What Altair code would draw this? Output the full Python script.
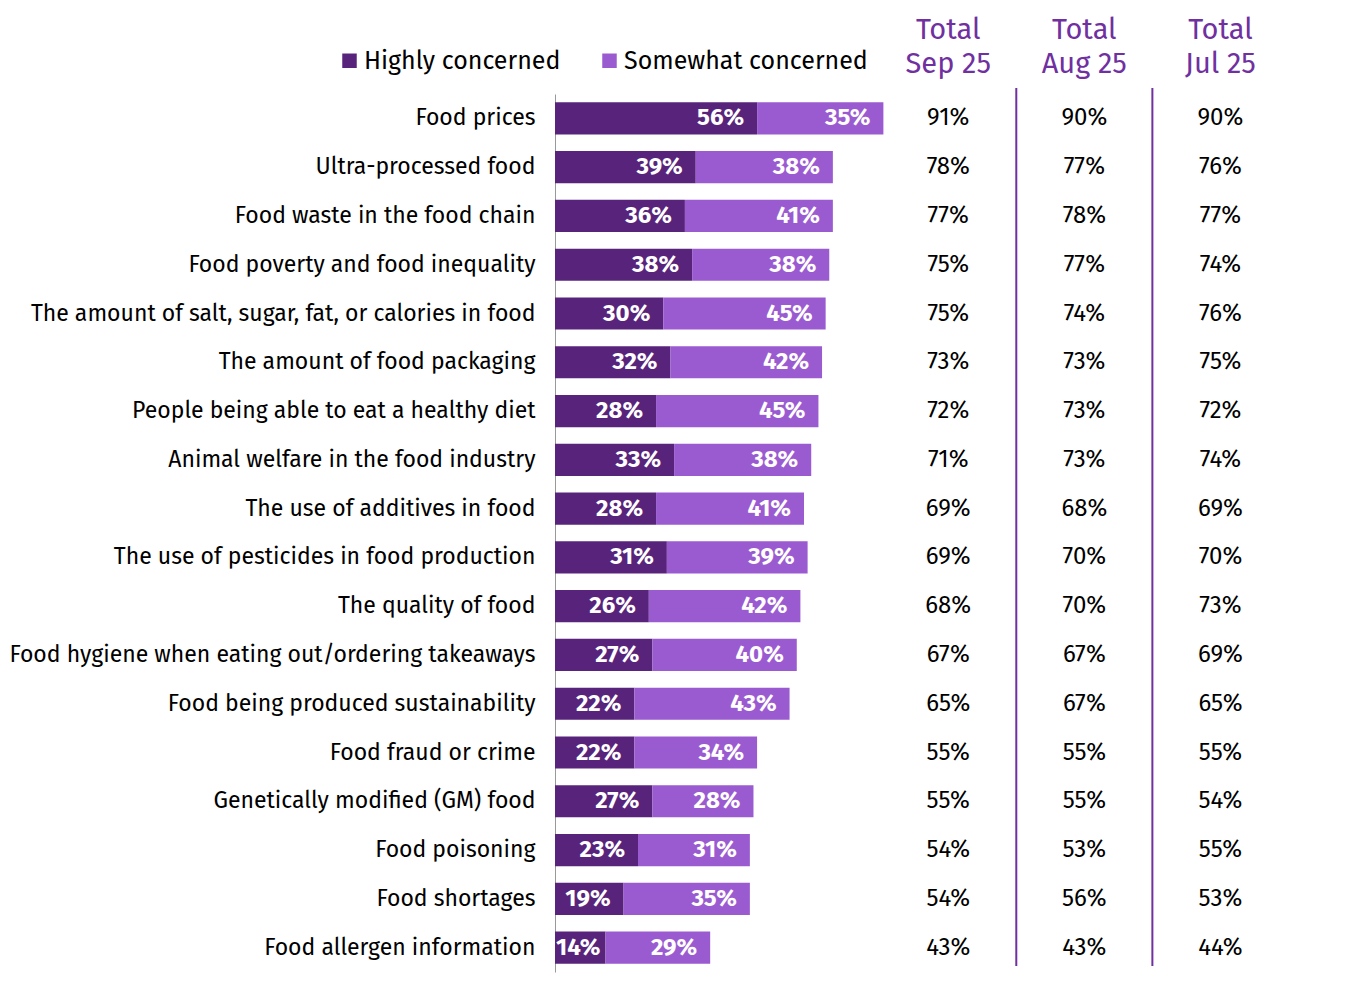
import altair as alt
import pandas as pd

categories = [
    "Food prices",
    "Ultra-processed food",
    "Food waste in the food chain",
    "Food poverty and food inequality",
    "The amount of salt, sugar, fat, or calories in food",
    "The amount of food packaging",
    "People being able to eat a healthy diet",
    "Animal welfare in the food industry",
    "The use of additives in food ",
    "The use of pesticides in food production",
    "The quality of food",
    "Food hygiene when eating out/ordering takeaways",
    "Food being produced sustainability ",
    "Food fraud or crime ",
    "Genetically modified (GM) food",
    "Food poisoning ",
    "Food shortages",
    "Food allergen information ",
]
highly = [56, 39, 36, 38, 30, 32, 28, 33, 28, 31, 26, 27, 22, 22, 27, 23, 19, 14]
somewhat = [35, 38, 41, 38, 45, 42, 45, 38, 41, 39, 42, 40, 43, 34, 28, 31, 35, 29]
series = ["Highly concerned", "Somewhat concerned"]

total_cols = ["Total\nSep 25", "Total\nAug 25", "Total\nJul 25"]
total_sep = [91, 78, 77, 75, 75, 73, 72, 71, 69, 69, 68, 67, 65, 55, 55, 54, 54, 43]
total_aug = [90, 77, 78, 77, 74, 73, 73, 73, 68, 70, 70, 67, 67, 55, 55, 53, 56, 43]
total_jul = [90, 76, 77, 74, 76, 75, 72, 74, 69, 70, 73, 69, 65, 55, 54, 55, 53, 44]

DARK = "#58247b"
LIGHT = "#9b5bd0"
PURPLE = "#7030a0"
FONT = "Fira Sans, Liberation Sans Narrow, DejaVu Sans Condensed, sans-serif"

rows = []
for i, c in enumerate(categories):
    end = 0
    for s, vals in zip(series, [highly, somewhat]):
        start = end
        end = start + vals[i]
        rows.append({"cat": c, "series": s, "order": series.index(s),
                     "start": start, "end": end, "value": vals[i],
                     "label": f"{vals[i]}%"})
bars_df = pd.DataFrame(rows)

trows = []
for j, vals in enumerate([total_sep, total_aug, total_jul]):
    for i, c in enumerate(categories):
        trows.append({"cat": c, "col": j, "label": f"{vals[i]}%"})
tot_df = pd.DataFrame(trows)
head_df = pd.DataFrame({"col": list(range(len(total_cols))), "label": total_cols})
sep_df = pd.DataFrame({"col": [j + 0.5 for j in range(len(total_cols) - 1)]})

H = 878
ysc = alt.Scale(domain=categories, paddingInner=0.34, paddingOuter=0.17)
xsc = alt.Scale(domain=[0, 92], nice=False, zero=True)

base = alt.Chart(bars_df)
bar = base.mark_bar().encode(
    y=alt.Y("cat:N", scale=ysc, sort=categories,
            axis=alt.Axis(title=None, ticks=False, labelFontSize=23, labelFont=FONT,
                          labelColor="#000", labelPadding=20, labelLimit=700,
                          domainColor="#999", domainWidth=1)),
    x=alt.X("start:Q", scale=xsc, axis=None),
    x2="end:Q",
    color=alt.Color("series:N", scale=alt.Scale(domain=series, range=[DARK, LIGHT]),
                    legend=alt.Legend(title=None, orient="none", direction="horizontal",
                                      legendX=-218, legendY=-46, symbolType="square",
                                      symbolSize=210, symbolStrokeWidth=0,
                                      labelFontSize=25, labelFont=FONT, labelColor="#000",
                                      labelLimit=400, columnPadding=36, labelOffset=2)),
    order="order:Q",
)
blabel = base.transform_filter("datum.value >= 16").mark_text(
    align="right", baseline="middle", dx=-13, color="white",
    fontSize=24, fontWeight="bold", font=FONT).encode(
    y=alt.Y("cat:N", scale=ysc, sort=categories),
    x=alt.X("end:Q", scale=xsc),
    text="label:N",
)
blabel_small = base.transform_filter("datum.value < 16").mark_text(
    align="left", baseline="middle", dx=1, color="white",
    fontSize=24, fontWeight="bold", font=FONT).encode(
    y=alt.Y("cat:N", scale=ysc, sort=categories),
    x=alt.X("start:Q", scale=xsc),
    text="label:N",
)
left = (bar + blabel + blabel_small).properties(width=332, height=H)

tsc = alt.Scale(domain=[-0.45, 2.57], nice=False, zero=False)
tvals = alt.Chart(tot_df).mark_text(fontSize=24, font=FONT, color="#000", baseline="middle").encode(
    x=alt.X("col:Q", scale=tsc, axis=None),
    y=alt.Y("cat:N", scale=ysc, sort=categories, axis=None),
    text="label:N",
)
heads = alt.Chart(head_df).mark_text(fontSize=29, font=FONT, color=PURPLE, baseline="middle",
                                     lineBreak="\n", lineHeight=34).encode(
    x=alt.X("col:Q", scale=tsc, axis=None),
    y=alt.value(-64),
    text="label:N",
)
rules = alt.Chart(sep_df).mark_rule(color=PURPLE, strokeWidth=2).encode(
    x=alt.X("col:Q", scale=tsc, axis=None),
    y=alt.value(-6),
    y2=alt.value(H - 6),
)
right = (tvals + heads + rules).properties(width=411, height=H)

chart = alt.hconcat(left, right, spacing=0).properties(
    padding={"left": 0, "top": 8, "right": 5, "bottom": 5}
).configure_view(stroke=None).configure_axis(grid=False)

chart.save("out.html", embed_options={"renderer": "svg", "actions": False})
